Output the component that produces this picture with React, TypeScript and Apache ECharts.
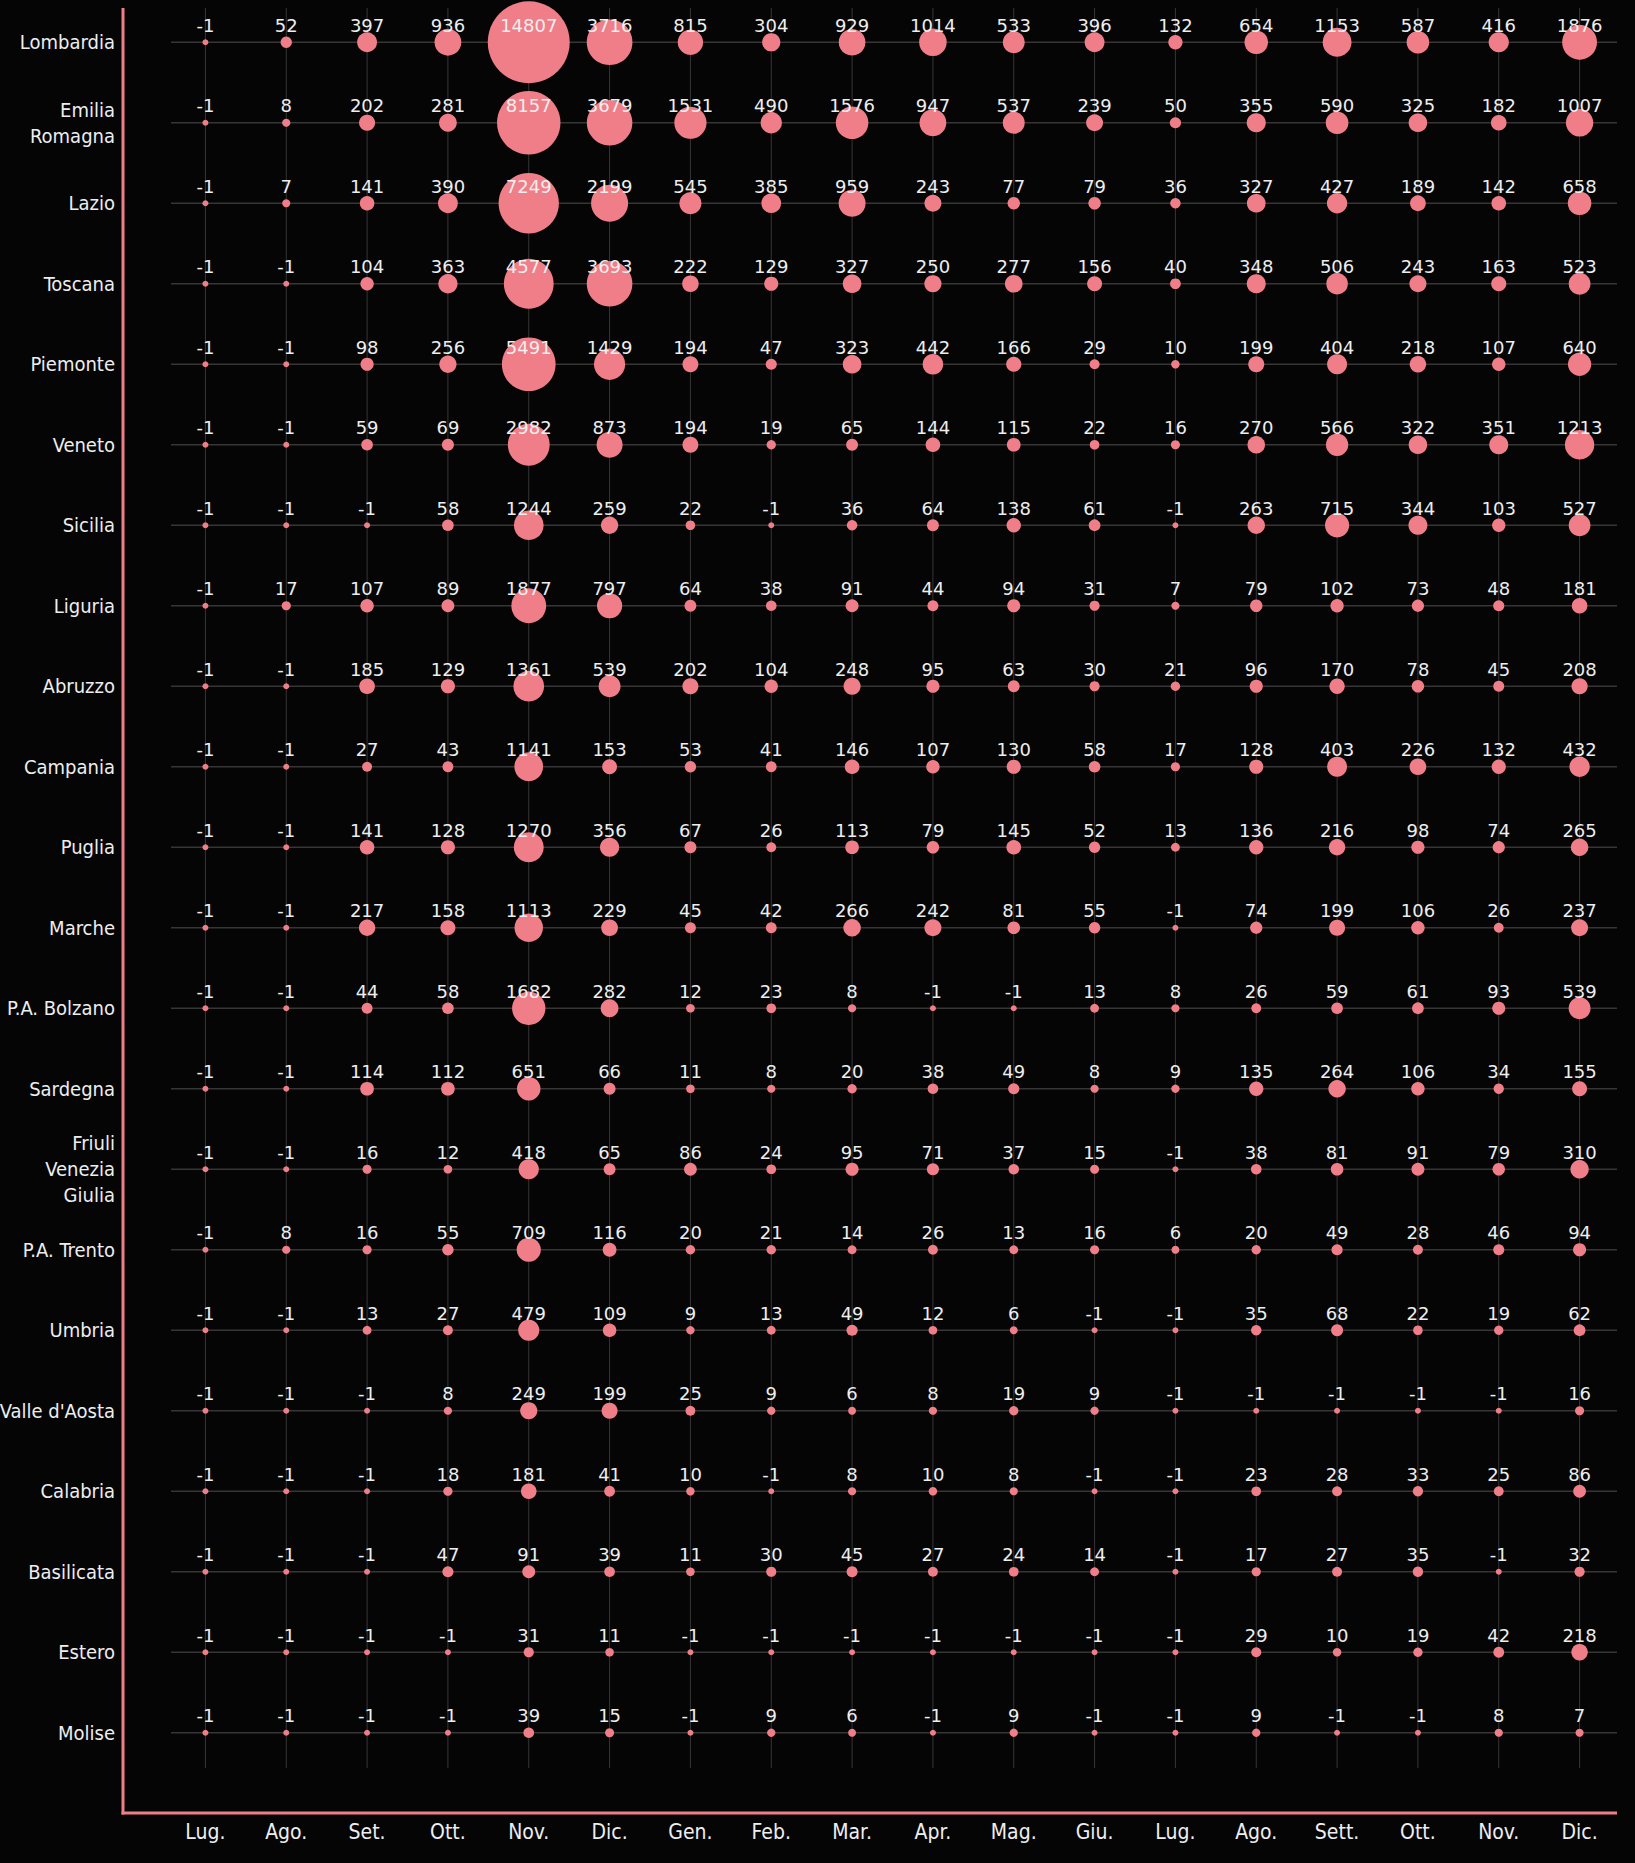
import React, { useEffect, useRef } from "react";
import * as echarts from "echarts";

const months = ["Lug.", "Ago.", "Set.", "Ott.", "Nov.", "Dic.", "Gen.", "Feb.", "Mar.", "Apr.", "Mag.", "Giu.", "Lug.", "Ago.", "Sett.", "Ott.", "Nov.", "Dic."];

const regions = [
  "Lombardia",
  "Emilia\nRomagna",
  "Lazio",
  "Toscana",
  "Piemonte",
  "Veneto",
  "Sicilia",
  "Liguria",
  "Abruzzo",
  "Campania",
  "Puglia",
  "Marche",
  "P.A. Bolzano",
  "Sardegna",
  "Friuli\nVenezia\nGiulia",
  "P.A. Trento",
  "Umbria",
  "Valle d'Aosta",
  "Calabria",
  "Basilicata",
  "Estero",
  "Molise",
];

const lombardia = [-1, 52, 397, 936, 14807, 3716, 815, 304, 929, 1014, 533, 396, 132, 654, 1153, 587, 416, 1876];
const emiliaRomagna = [-1, 8, 202, 281, 8157, 3679, 1531, 490, 1576, 947, 537, 239, 50, 355, 590, 325, 182, 1007];
const lazio = [-1, 7, 141, 390, 7249, 2199, 545, 385, 959, 243, 77, 79, 36, 327, 427, 189, 142, 658];
const toscana = [-1, -1, 104, 363, 4577, 3693, 222, 129, 327, 250, 277, 156, 40, 348, 506, 243, 163, 523];
const piemonte = [-1, -1, 98, 256, 5491, 1429, 194, 47, 323, 442, 166, 29, 10, 199, 404, 218, 107, 640];
const veneto = [-1, -1, 59, 69, 2982, 873, 194, 19, 65, 144, 115, 22, 16, 270, 566, 322, 351, 1213];
const sicilia = [-1, -1, -1, 58, 1244, 259, 22, -1, 36, 64, 138, 61, -1, 263, 715, 344, 103, 527];
const liguria = [-1, 17, 107, 89, 1877, 797, 64, 38, 91, 44, 94, 31, 7, 79, 102, 73, 48, 181];
const abruzzo = [-1, -1, 185, 129, 1361, 539, 202, 104, 248, 95, 63, 30, 21, 96, 170, 78, 45, 208];
const campania = [-1, -1, 27, 43, 1141, 153, 53, 41, 146, 107, 130, 58, 17, 128, 403, 226, 132, 432];
const puglia = [-1, -1, 141, 128, 1270, 356, 67, 26, 113, 79, 145, 52, 13, 136, 216, 98, 74, 265];
const marche = [-1, -1, 217, 158, 1113, 229, 45, 42, 266, 242, 81, 55, -1, 74, 199, 106, 26, 237];
const bolzano = [-1, -1, 44, 58, 1682, 282, 12, 23, 8, -1, -1, 13, 8, 26, 59, 61, 93, 539];
const sardegna = [-1, -1, 114, 112, 651, 66, 11, 8, 20, 38, 49, 8, 9, 135, 264, 106, 34, 155];
const friuli = [-1, -1, 16, 12, 418, 65, 86, 24, 95, 71, 37, 15, -1, 38, 81, 91, 79, 310];
const trento = [-1, 8, 16, 55, 709, 116, 20, 21, 14, 26, 13, 16, 6, 20, 49, 28, 46, 94];
const umbria = [-1, -1, 13, 27, 479, 109, 9, 13, 49, 12, 6, -1, -1, 35, 68, 22, 19, 62];
const valleAosta = [-1, -1, -1, 8, 249, 199, 25, 9, 6, 8, 19, 9, -1, -1, -1, -1, -1, 16];
const calabria = [-1, -1, -1, 18, 181, 41, 10, -1, 8, 10, 8, -1, -1, 23, 28, 33, 25, 86];
const basilicata = [-1, -1, -1, 47, 91, 39, 11, 30, 45, 27, 24, 14, -1, 17, 27, 35, -1, 32];
const estero = [-1, -1, -1, -1, 31, 11, -1, -1, -1, -1, -1, -1, -1, 29, 10, 19, 42, 218];
const molise = [-1, -1, -1, -1, 39, 15, -1, 9, 6, -1, 9, -1, -1, 9, -1, -1, 8, 7];

const rowsValues = [
  lombardia, emiliaRomagna, lazio, toscana, piemonte, veneto, sicilia, liguria, abruzzo,
  campania, puglia, marche, bolzano, sardegna, friuli, trento, umbria, valleAosta,
  calabria, basilicata, estero, molise,
];

const BG = "#050505";
const PINK = "#F07E89";
const TEXT = "#EEEEEE";
const GRIDLINE = "#363636";
const LABEL_FONT = "'Liberation Sans Narrow', 'DejaVu Sans Condensed', 'Roboto', sans-serif";
const NUM_FONT = "'DejaVu Sans', 'Liberation Sans', sans-serif";

export default function App() {
  const ref = useRef<HTMLDivElement>(null);

  useEffect(() => {
    document.body.style.margin = "0";
    document.body.style.background = BG;
    document.body.style.overflow = "hidden";
    if (!ref.current) return;
    const chart = echarts.init(ref.current, null, { renderer: "svg" });

    const points: number[][] = [];
    rowsValues.forEach((vals, r) => {
      vals.forEach((v, c) => points.push([c, r, v]));
    });
    const vLines = months.map((_, i) => [i, 0]);
    const hLines = regions.map((_, j) => [0, j]);

    chart.setOption({
      animation: false,
      backgroundColor: BG,
      grid: {
        left: 165,
        right: 15,
        top: 2,
        bottom: 90,
        containLabel: false,
        outerBoundsMode: "none",
      },
      xAxis: {
        type: "category",
        data: months,
        boundaryGap: true,
        axisLine: { show: false },
        axisTick: { show: false },
        splitLine: { show: false },
        axisLabel: {
          color: TEXT,
          fontFamily: LABEL_FONT,
          fontSize: 21,
          margin: 48,
          interval: 0,
        },
      },
      yAxis: {
        type: "category",
        data: regions,
        inverse: true,
        boundaryGap: true,
        axisLine: { show: false },
        axisTick: { show: false },
        splitLine: { show: false },
        axisLabel: {
          color: TEXT,
          fontFamily: LABEL_FONT,
          fontSize: 20,
          lineHeight: 26,
          margin: 50,
          interval: 0,
        },
      },
      graphic: [
        {
          type: "line",
          shape: { x1: 123, y1: 8, x2: 123, y2: 1814.5 },
          style: { stroke: PINK, lineWidth: 3 },
          z: 100,
        },
        {
          type: "line",
          shape: { x1: 121.5, y1: 1813, x2: 1617, y2: 1813 },
          style: { stroke: PINK, lineWidth: 3 },
          z: 100,
        },
      ],
      series: [
        {
          type: "custom",
          silent: true,
          z: 0,
          data: vLines,
          renderItem: (params: any, api: any) => {
            const p = api.coord([api.value(0), api.value(1)]);
            const cs = params.coordSys;
            return {
              type: "line",
              shape: { x1: p[0], y1: cs.y + 6, x2: p[0], y2: cs.y + cs.height - 5 },
              style: { stroke: GRIDLINE, lineWidth: 1 },
            };
          },
        },
        {
          type: "custom",
          silent: true,
          z: 0,
          data: hLines,
          renderItem: (params: any, api: any) => {
            const p = api.coord([api.value(0), api.value(1)]);
            const cs = params.coordSys;
            return {
              type: "line",
              shape: { x1: cs.x + 6, y1: p[1], x2: cs.x + cs.width - 3, y2: p[1] },
              style: { stroke: GRIDLINE, lineWidth: 1.5 },
            };
          },
        },
        {
          type: "scatter",
          z: 5,
          data: points,
          symbol: "circle",
          symbolSize: (d: number[]) => 6 + 0.833 * Math.pow(Math.max(d[2], 0), 0.47),
          itemStyle: { color: PINK, opacity: 1 },
          label: {
            show: true,
            position: "inside",
            offset: [0, -17],
            formatter: (p: any) => String(p.value[2]),
            color: TEXT,
            fontFamily: NUM_FONT,
            fontSize: 18,
          },
          emphasis: { disabled: true },
        },
      ],
    });

    return () => {
      chart.dispose();
    };
  }, []);

  return <div ref={ref} style={{ width: 1635, height: 1863 }} />;
}
